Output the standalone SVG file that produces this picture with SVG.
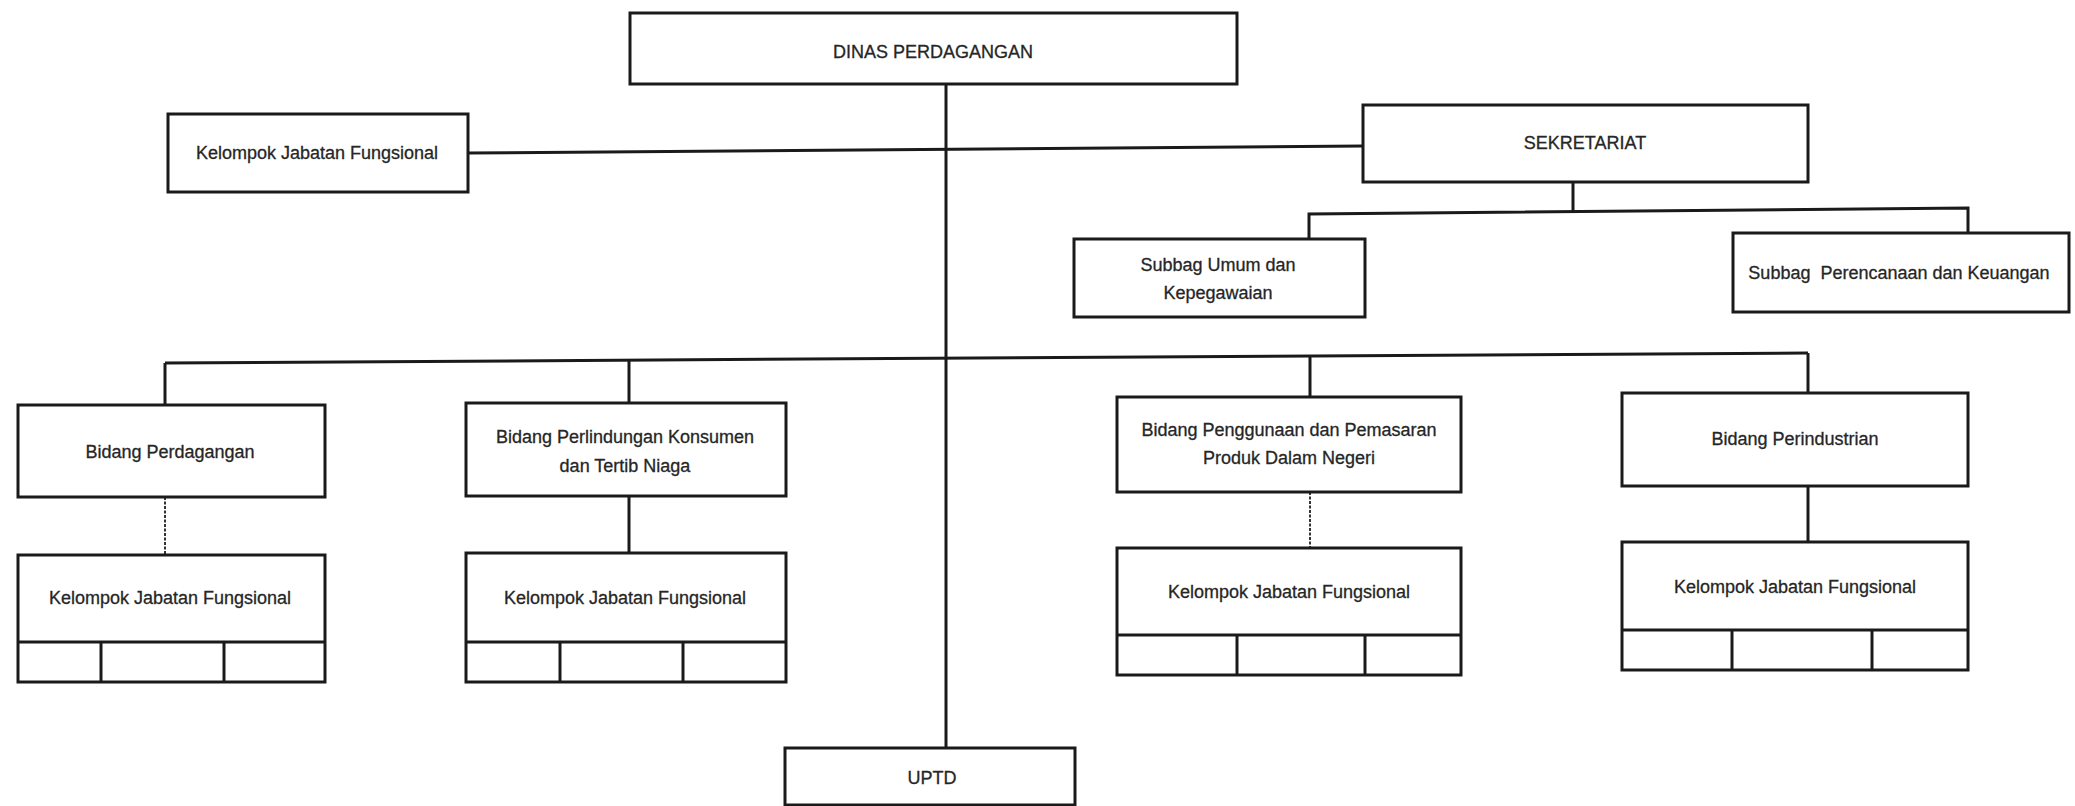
<svg xmlns="http://www.w3.org/2000/svg" width="2075" height="806" viewBox="0 0 2075 806">
<style>
.box{fill:#fff;stroke:#1a1a1a;stroke-width:3}
.ln{fill:none;stroke:#1a1a1a;stroke-width:3}
.dot{fill:none;stroke:#333;stroke-width:2;stroke-dasharray:3 1.5}
.t{font-family:"Liberation Sans",Arial,sans-serif;font-size:18px;fill:#262626;stroke:#262626;stroke-width:0.3;text-anchor:middle;dominant-baseline:central}
</style>
<rect width="2075" height="806" fill="#fff"/>
<g id="connectors">
<line class="ln" x1="946" y1="84" x2="946" y2="748"/>
<line class="ln" x1="468" y1="153" x2="1363" y2="146"/>
<line class="ln" x1="1573" y1="182" x2="1573" y2="211"/>
<polyline class="ln" points="1309,239 1309,214 1968,208 1968,233"/>
<line class="ln" x1="165" y1="363" x2="1808" y2="353"/>
<line class="ln" x1="165" y1="363" x2="165" y2="405"/>
<line class="ln" x1="629" y1="360" x2="629" y2="403"/>
<line class="ln" x1="1310" y1="356" x2="1310" y2="397"/>
<line class="ln" x1="1808" y1="353" x2="1808" y2="393"/>
<line class="dot" x1="165" y1="497" x2="165" y2="555"/>
<line class="ln" x1="629" y1="496" x2="629" y2="553"/>
<line class="dot" x1="1310" y1="492" x2="1310" y2="548"/>
<line class="ln" x1="1808" y1="486" x2="1808" y2="542"/>
</g>
<g id="dinas">
<rect class="box" x="630" y="13" width="607" height="71"/>
<text class="t" x="933" y="52">DINAS PERDAGANGAN</text>
</g>
<g id="kjf-top">
<rect class="box" x="168" y="114" width="300" height="78"/>
<text class="t" x="317" y="153">Kelompok Jabatan Fungsional</text>
</g>
<g id="sekretariat">
<rect class="box" x="1363" y="105" width="445" height="77"/>
<text class="t" x="1585" y="143">SEKRETARIAT</text>
</g>
<g id="subbag-umum">
<rect class="box" x="1074" y="239" width="291" height="78"/>
<text class="t" x="1218" y="265">Subbag Umum dan</text>
<text class="t" x="1218" y="293">Kepegawaian</text>
</g>
<g id="subbag-perencanaan">
<rect class="box" x="1733" y="233" width="336" height="79"/>
<text class="t" x="1899" y="273" xml:space="preserve">Subbag  Perencanaan dan Keuangan</text>
</g>
<g id="bidang-perdagangan">
<rect class="box" x="18" y="405" width="307" height="92"/>
<text class="t" x="170" y="452">Bidang Perdagangan</text>
</g>
<g id="kjf-1">
<rect class="box" x="18" y="555" width="307" height="127"/>
<line class="ln" x1="18" y1="642" x2="325" y2="642"/>
<line class="ln" x1="101" y1="642" x2="101" y2="682"/>
<line class="ln" x1="224" y1="642" x2="224" y2="682"/>
<text class="t" x="170" y="598">Kelompok Jabatan Fungsional</text>
</g>
<g id="bidang-perlindungan">
<rect class="box" x="466" y="403" width="320" height="93"/>
<text class="t" x="625" y="437">Bidang Perlindungan Konsumen</text>
<text class="t" x="625" y="466">dan Tertib Niaga</text>
</g>
<g id="kjf-2">
<rect class="box" x="466" y="553" width="320" height="129"/>
<line class="ln" x1="466" y1="642" x2="786" y2="642"/>
<line class="ln" x1="560" y1="642" x2="560" y2="682"/>
<line class="ln" x1="683" y1="642" x2="683" y2="682"/>
<text class="t" x="625" y="598">Kelompok Jabatan Fungsional</text>
</g>
<g id="bidang-penggunaan">
<rect class="box" x="1117" y="397" width="344" height="95"/>
<text class="t" x="1289" y="430">Bidang Penggunaan dan Pemasaran</text>
<text class="t" x="1289" y="458">Produk Dalam Negeri</text>
</g>
<g id="kjf-3">
<rect class="box" x="1117" y="548" width="344" height="127"/>
<line class="ln" x1="1117" y1="635" x2="1461" y2="635"/>
<line class="ln" x1="1237" y1="635" x2="1237" y2="675"/>
<line class="ln" x1="1365" y1="635" x2="1365" y2="675"/>
<text class="t" x="1289" y="592">Kelompok Jabatan Fungsional</text>
</g>
<g id="bidang-perindustrian">
<rect class="box" x="1622" y="393" width="346" height="93"/>
<text class="t" x="1795" y="439">Bidang Perindustrian</text>
</g>
<g id="kjf-4">
<rect class="box" x="1622" y="542" width="346" height="128"/>
<line class="ln" x1="1622" y1="630" x2="1968" y2="630"/>
<line class="ln" x1="1732" y1="630" x2="1732" y2="670"/>
<line class="ln" x1="1872" y1="630" x2="1872" y2="670"/>
<text class="t" x="1795" y="587">Kelompok Jabatan Fungsional</text>
</g>
<g id="uptd">
<rect class="box" x="785" y="748" width="290" height="57"/>
<text class="t" x="932" y="778">UPTD</text>
</g>
</svg>
